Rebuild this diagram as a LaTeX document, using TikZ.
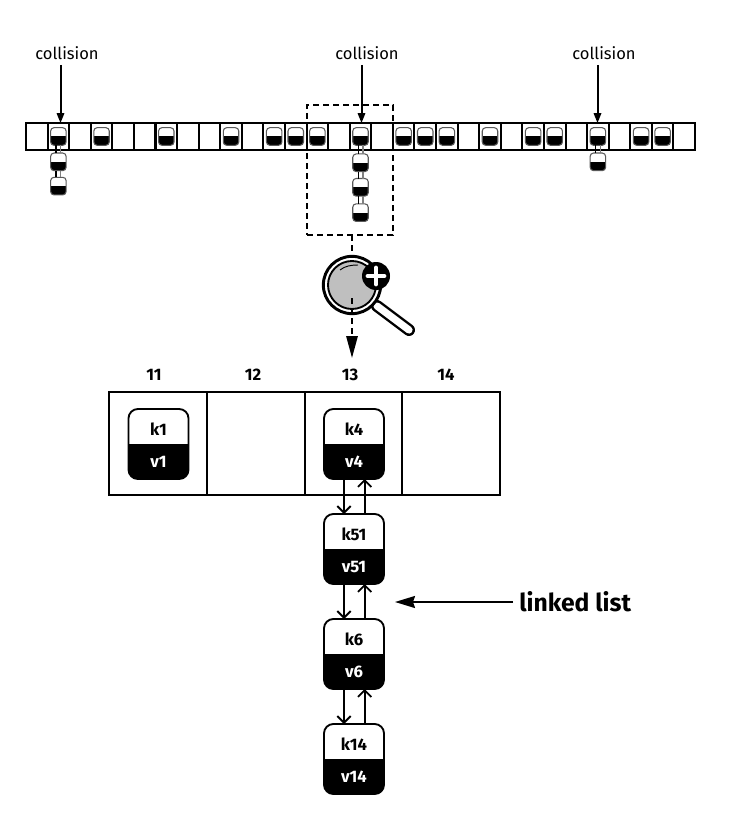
\documentclass[tikz,border=0pt]{standalone}
\usepackage{fontspec}
\setmainfont{Fira Sans}
\usetikzlibrary{positioning,arrows.meta}

\tikzset{
    cellbox/.style={draw,line width=1.5pt,minimum width=16.2pt,minimum height=20pt,inner sep=0pt,outer sep=0pt},
    slotbox/.style={draw,line width=1.4pt,minimum width=73.3pt,minimum height=77pt,inner sep=0pt,outer sep=0pt},
    smallkv/.style={draw=black!65,line width=.8pt,rounded corners=2.5pt,minimum width=11.6pt,minimum height=13.2pt,inner sep=0pt,outer sep=0pt,
        path picture={\fill[black,sharp corners] (path picture bounding box.west) rectangle (path picture bounding box.south east);}},
    largekv/.style={draw,line width=1.4pt,rounded corners=7pt,minimum width=45pt,minimum height=52.5pt,inner sep=0pt,outer sep=0pt,
        path picture={\fill[black,sharp corners] (path picture bounding box.west) rectangle (path picture bounding box.south east);}},
    keytext/.style={font=\fontsize{12.5}{14}\selectfont\bfseries},
    valtext/.style={keytext,text=white},
    note/.style={font=\fontsize{12.4}{14}\selectfont},
    hit/.style={line width=1.5pt,-{Triangle[length=7.5pt,width=5.5pt]}},
    listarrow/.style={line width=1.35pt,-{Straight Barb[length=5pt,width=10pt]}},
    zoomline/.style={line width=1.5pt,dash pattern=on 4.5pt off 3pt},
}

\newcommand{\kvnode}[3]{
    \node[keytext] (#1key) at ([yshift=11pt]#1.center) {#2};
    \node[valtext] (#1val) at ([yshift=-13.5pt]#1.center) {#3};
}

\begin{document}
\begin{tikzpicture}[x=.75pt,y=-.75pt]
    \useasboundingbox (0,0) rectangle (728,813);

    \foreach \i in {0,...,30} {
        \node[cellbox] (cell\i) at ({36.8+21.58*\i},136.5) {};
    }
    \foreach \i in {1,3,6,9,11,12,13,15,17,18,19,21,23,24,26,28,29} {
        \node[smallkv] (s\i) at (cell\i) {};
    }

    \node[smallkv,below=5.8pt of s1] (s1a) {};
    \node[smallkv,below=5pt of s1a] (s1b) {};
    \node[smallkv,below=6.5pt of s15] (s15a) {};
    \node[smallkv,below=5.2pt of s15a] (s15b) {};
    \node[smallkv,below=5.8pt of s15b] (s15c) {};
    \node[smallkv,below=5.8pt of s26] (s26a) {};

    \foreach \a/\b in {s1/s1a,s1a/s1b,s15/s15a,s15a/s15b,s15b/s15c,s26/s26a} {
        \draw[line width=.9pt] ([xshift=-1.8pt]\a.south) -- ([xshift=-1.8pt]\b.north);
        \draw[line width=.9pt,black!50] ([xshift=1.8pt]\a.south) -- ([xshift=1.8pt]\b.north);
    }

    \node[note] (c1) at (67,53) {collision};
    \node[note] (c2) at (367,53) {collision};
    \node[note] (c3) at (604,53) {collision};
    \coordinate (c1a) at (60.5,65);
    \coordinate (c2a) at (361.5,65);
    \coordinate (c3a) at (597.5,65);
    \draw[hit] (c1a) -- (c1a |- cell1.north);
    \draw[hit] (c2a) -- (c2a |- cell15.north);
    \draw[hit] (c3a) -- (c3a |- cell26.north);

    \node[draw,line width=1.1pt,dash pattern=on 4.5pt off 3pt,minimum width=64.5pt,minimum height=97.5pt,inner sep=0pt,outer sep=0pt] (zoombox) at (350,170) {};

    \coordinate (zoomtip) at (352,358);
    \coordinate (lensout) at (352,298);
    \draw[zoomline] (zoombox.south -| zoomtip) -- (lensout);

    \draw[line width=9pt,line cap=round] (377,306) -- (409,330);
    \draw[line width=5.4pt,line cap=round,white] (377,306) -- (409,330);
    \node[circle,draw,fill=white,line width=2.2pt,minimum size=43pt,inner sep=0pt] (lens) at (352,285) {};
    \node[circle,draw,fill=black!25,line width=1.4pt,minimum size=36pt,inner sep=0pt] (glass) at (lens) {};
    \draw[line width=.7pt] (340,270) .. controls (345,266) and (351,265) .. (358,265);
    \draw[zoomline,-{Triangle[length=16.5pt,width=8.5pt]}] (lensout) -- (zoomtip);
    \node[circle,fill=black,minimum size=21pt,inner sep=0pt] (plus) at (376,276) {};
    \draw[white,line width=3.6pt,line cap=round] ([xshift=-6pt]plus.center) -- ([xshift=6pt]plus.center);
    \draw[white,line width=3.6pt,line cap=round] ([yshift=-6pt]plus.center) -- ([yshift=6pt]plus.center);

    \node[slotbox] (slot11) at (158,443.5) {};
    \node[slotbox,right=0pt of slot11] (slot12) {};
    \node[slotbox,right=0pt of slot12] (slot13) {};
    \node[slotbox,right=0pt of slot13] (slot14) {};
    \foreach \n/\x in {11/154,12/253,13/350,14/446} {
        \node[keytext] (idx\n) at (\x,375) {\n};
    }

    \node[largekv] (k1) at (158.5,444) {};
    \node[largekv] (k4) at (354,444) {};
    \node[largekv,below=26.25pt of k4] (k51) {};
    \node[largekv,below=26.25pt of k51] (k6) {};
    \node[largekv,below=26.25pt of k6] (k14) {};
    \kvnode{k1}{k1}{v1}
    \kvnode{k4}{k4}{v4}
    \kvnode{k51}{k51}{v51}
    \kvnode{k6}{k6}{v6}
    \kvnode{k14}{k14}{v14}

    \foreach \a/\b in {k4/k51,k51/k6,k6/k14} {
        \draw[listarrow] ([xshift=-7.5pt]\a.south) -- ([xshift=-7.5pt]\b.north);
        \draw[listarrow] ([xshift=8pt]\b.north) -- ([xshift=8pt]\a.south);
    }

    \node[font=\fontsize{18.5}{22}\selectfont\bfseries,anchor=west,inner sep=0pt] (listnote) at (519,602) {linked list};
    \coordinate (listtip) at (395,602);
    \draw[line width=1.4pt,-{Stealth[length=15pt,width=9pt,inset=1.5pt]}] ([xshift=-4.5pt]listnote.west) -- (listtip);
\end{tikzpicture}
\end{document}
